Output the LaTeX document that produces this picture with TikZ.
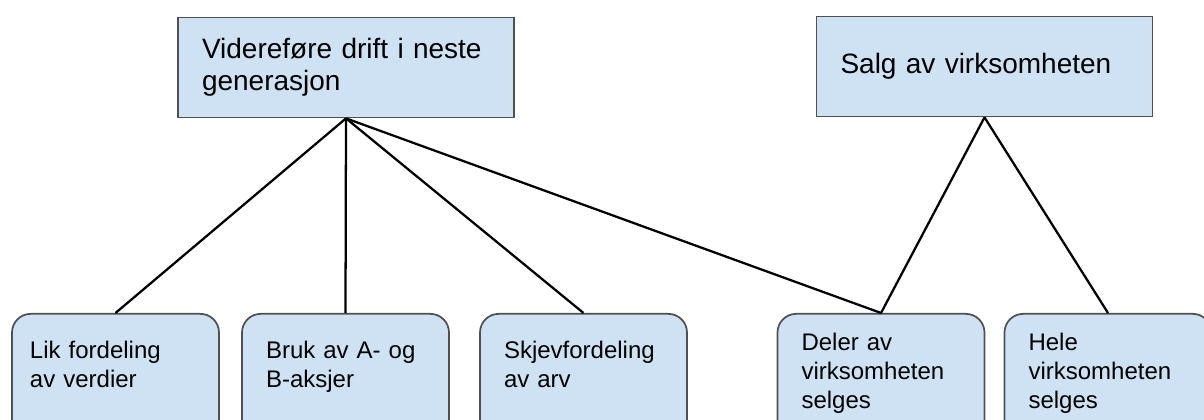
\documentclass[tikz,border=0pt]{standalone}
\usepackage{fontspec}
\setmainfont{Liberation Sans}
\definecolor{boxfill}{HTML}{CFE2F3}
\definecolor{boxline}{HTML}{505050}

\tikzset{
  goal/.style={draw=boxline,fill=boxfill,line width=1.3pt,inner sep=0pt,
    minimum width=252pt,minimum height=75pt,text width=216pt,align=left,
    font=\fontsize{21}{24}\selectfont},
  option/.style={draw=boxline,fill=boxfill,line width=1.3pt,rounded corners=14pt,
    inner sep=0pt,anchor=north,minimum width=155.25pt,text width=119.25pt,
    text height=33.75pt,text depth=75pt,align=left,
    font=\fontsize{18}{21.75}\selectfont},
  option3/.style={option,text height=27.75pt,text depth=81pt},
  link/.style={line width=1.7pt,black}
}

\begin{document}
\begin{tikzpicture}[x=0.75pt,y=-0.75pt]
  \useasboundingbox (0,0) rectangle (1204,420);
  \clip (0,0) rectangle (1204,420);

  % the two main choices
  \node[goal] (drift) at (346,67.5) {Videreføre drift i neste\\generasjon};
  \node[goal] (salg)  at (984.5,66.5) {Salg av virksomheten};

  % the ways of doing it
  \node[option,text width=128.25pt] (lik) at (115.5,313) {Lik fordeling\\av verdier};
  \node[option] (aksjer) at (345.5,313) {Bruk av A- og\\B-aksjer};
  \node[option] (skjev)  at (583.5,313) {Skjevfordeling\\av arv};
  \node[option3] (deler) at (881,313)   {Deler av\\virksomheten\\selges};
  \node[option3] (hele)  at (1108,313)  {Hele\\virksomheten\\selges};

  \draw[link] (drift.south) -- (lik.north);
  \draw[link] (drift.south) -- (aksjer.north);
  \draw[link] (drift.south) -- (skjev.north);
  \draw[link] (drift.south) -- (deler.north);
  \draw[link] (salg.south)  -- (deler.north);
  \draw[link] (salg.south)  -- (hele.north);
\end{tikzpicture}
\end{document}
